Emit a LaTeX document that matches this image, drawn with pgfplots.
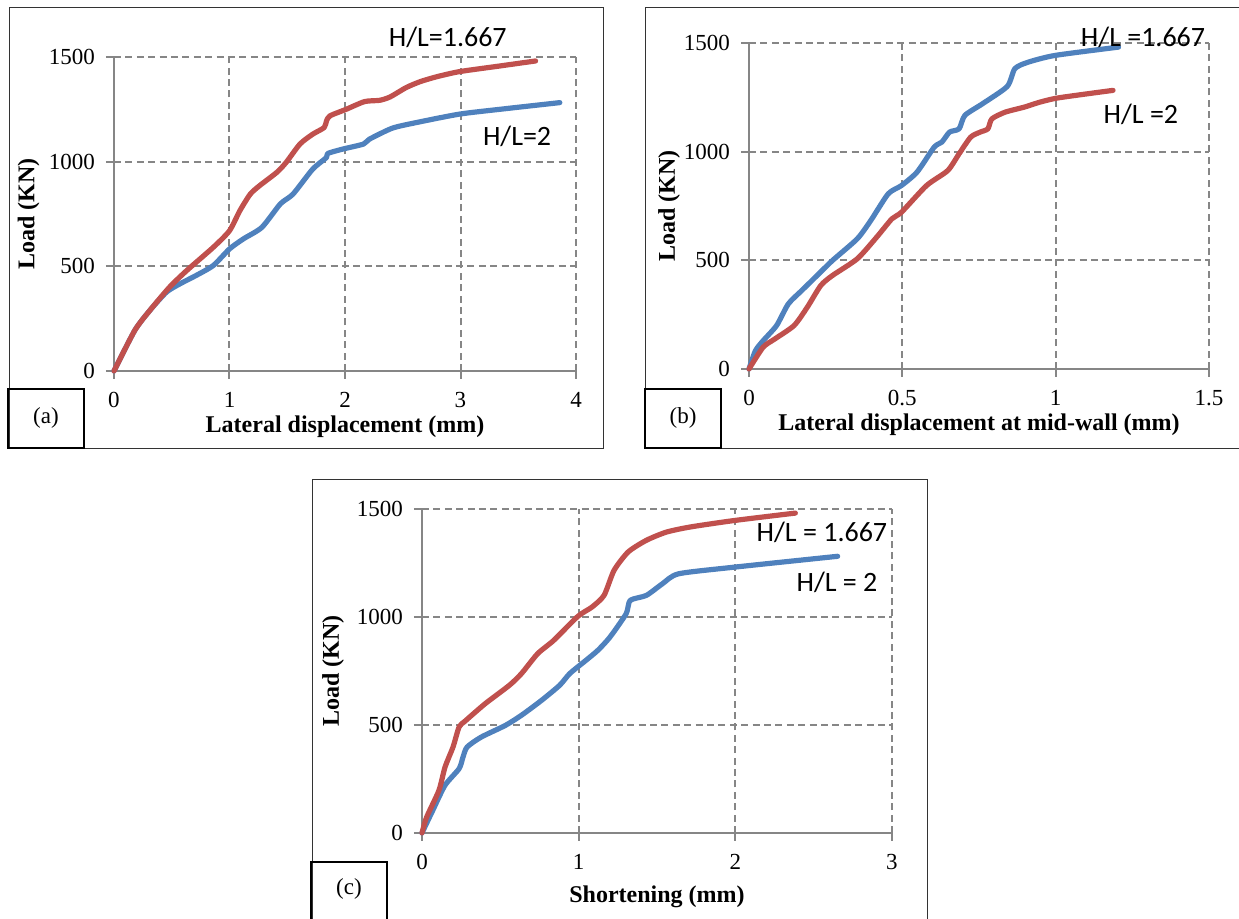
\documentclass[border=0pt]{standalone}
\usepackage{fontspec}
\setmainfont{Liberation Serif}
\newfontfamily\calibri{Carlito}
\usepackage{pgfplots}
\pgfplotsset{compat=1.18}
\definecolor{axgray}{RGB}{134,134,134}
\definecolor{xred}{RGB}{192,80,77}
\definecolor{xblue}{RGB}{79,129,189}
\tikzset{hl/.style={font=\calibri\fontsize{14}{16}\selectfont, inner sep=0pt}}
\pgfplotsset{
  panel/.style={
    scale only axis,
    clip=false,
    axis x line*=bottom, axis y line*=left,
    axis line style={draw=axgray, line width=1pt, -},
    grid=major,
    major grid style={draw=axgray, line width=1pt, dash pattern=on 3.5pt off 2.2pt},
    tick align=outside, major tick length=4pt,
    tick style={draw=axgray, line width=1pt},
    ymin=0, ymax=1500, ytick={0,500,1000,1500},
    tick label style={font=\fontsize{11.5}{13}\selectfont},
    xticklabel shift=3pt, yticklabel shift=2pt,
    /pgf/number format/assume math mode=true,
    /pgf/number format/1000 sep={},
    every axis x label/.style={at={(axis description cs:0.5,0)}, anchor=center, font=\bfseries\fontsize{12}{14}\selectfont},
    every axis y label/.style={at={(axis description cs:0,0.5)}, rotate=90, anchor=center, font=\bfseries\fontsize{12}{14}\selectfont},
    every axis plot/.append style={line width=2.6pt, line cap=round, line join=round, smooth, tension=0.4, mark=none},
  },
}
\begin{document}
\begin{tikzpicture}
\useasboundingbox (0,0) rectangle (619.5pt,459.5pt);
% frames
\draw[black!80, line width=0.5pt] (4.5pt,235pt) rectangle (301.5pt,455.5pt);
\draw[black, line width=0.75pt] (4pt,235.5pt) rectangle (42pt,265pt);
\node[font=\fontsize{11.5}{13}\selectfont] at (23pt,250.5pt) {(a)};
\draw[black!80, line width=0.5pt] (619.5pt,455.5pt) -- (322.5pt,455.5pt) -- (322.5pt,235pt) -- (619.5pt,235pt);
\draw[black, line width=0.75pt] (322.5pt,235.5pt) rectangle (360.5pt,265pt);
\node[font=\fontsize{11.5}{13}\selectfont] at (341.5pt,250.5pt) {(b)};
\draw[black!80, line width=0.5pt] (156pt,-1pt) -- (156pt,219.5pt) -- (463.5pt,219.5pt) -- (463.5pt,-1pt);
\draw[black, line width=0.75pt] (155.5pt,-1pt) -- (155.5pt,28.5pt) -- (193.5pt,28.5pt) -- (193.5pt,-1pt);
\node[font=\fontsize{11.5}{13}\selectfont] at (174.5pt,15pt) {(c)};

% (a)
\begin{axis}[panel, at={(57pt,274pt)}, anchor=south west, width=231pt, height=157pt,
  xmin=0, xmax=4, xtick={0,1,2,3,4},
  xlabel={Lateral displacement (mm)}, ylabel={Load (KN)},
  x label style={yshift=-28pt}, y label style={yshift=42.75pt}]
\addplot[xblue] coordinates {(0,0) (0.18,194) (0.31,289) (0.455,377) (0.57,416) (0.71,456) (0.86,504) (1.0,583) (1.12,631) (1.28,686) (1.44,798) (1.55,845) (1.72,964) (1.84,1020) (1.85,1039) (1.98,1060) (2.16,1084) (2.21,1107) (2.41,1160) (2.62,1187) (2.99,1227) (3.34,1250) (3.86,1282)};
\addplot[xred] coordinates {(0,0) (0.18,194) (0.31,289) (0.48,400) (0.63,480) (0.86,591) (1.0,670) (1.09,766) (1.18,845) (1.26,885) (1.41,949) (1.49,996) (1.61,1084) (1.72,1131) (1.82,1163) (1.84,1195) (1.87,1219) (2.01,1250) (2.17,1287) (2.30,1293) (2.39,1309) (2.53,1354) (2.65,1382) (2.79,1405) (2.99,1430) (3.34,1457) (3.65,1481)};
\node[hl] at (axis cs:2.89,1593) {H/L=1.667};
\node[hl] at (axis cs:3.49,1123) {H/L=2};
\end{axis}

% (b)
\begin{axis}[panel, at={(374.5pt,275pt)}, anchor=south west, width=230pt, height=163pt,
  xmin=0, xmax=1.5, xtick={0,0.5,1,1.5},
  xlabel={Lateral displacement at mid-wall (mm)}, ylabel={Load (KN)},
  x label style={yshift=-28pt}, y label style={yshift=40pt}]
\addplot[xblue] coordinates {(0,0) (0.021,84) (0.046,130) (0.09,200) (0.128,299) (0.172,361) (0.222,430) (0.272,499) (0.353,599) (0.397,683) (0.454,806) (0.497,844) (0.548,906) (0.604,1021) (0.629,1044) (0.654,1090) (0.685,1105) (0.704,1167) (0.761,1220) (0.842,1300) (0.867,1382) (0.911,1412) (0.999,1443) (1.205,1481)};
\addplot[xred] coordinates {(0,0) (0.046,100) (0.084,138) (0.147,200) (0.19,284) (0.234,384) (0.272,430) (0.353,507) (0.416,606) (0.466,691) (0.497,721) (0.579,844) (0.648,913) (0.685,990) (0.723,1067) (0.754,1090) (0.779,1105) (0.792,1151) (0.836,1182) (0.898,1205) (0.949,1228) (1.011,1248) (1.187,1282)};
\node[hl] at (axis cs:1.285,1525) {H/L =1.667};
\node[hl] at (axis cs:1.278,1173) {H/L =2};
\end{axis}

% (c)
\begin{axis}[panel, at={(211pt,43pt)}, anchor=south west, width=235pt, height=162pt,
  xmin=0, xmax=3, xtick={0,1,2,3},
  xlabel={Shortening (mm)}, ylabel={Load (KN)},
  x label style={yshift=-32pt}, y label style={yshift=44.5pt}]
\addplot[xblue] coordinates {(0,0) (0.069,105) (0.147,221) (0.237,298) (0.262,352) (0.288,398) (0.378,444) (0.532,498) (0.635,545) (0.763,614) (0.879,684) (0.943,738) (1.046,799) (1.123,846) (1.2,907) (1.303,1015) (1.329,1077) (1.432,1100) (1.535,1154) (1.638,1200) (1.997,1231) (2.653,1281)};
\addplot[xred] coordinates {(0,0) (0.03,74) (0.108,197) (0.147,305) (0.198,398) (0.237,491) (0.275,518) (0.404,599) (0.558,684) (0.635,738) (0.738,830) (0.841,892) (0.995,1003) (1.085,1046) (1.162,1100) (1.226,1216) (1.316,1301) (1.432,1355) (1.56,1393) (1.715,1417) (1.997,1447) (2.383,1481)};
\node[hl] at (axis cs:2.553,1393) {H/L = 1.667};
\node[hl] at (axis cs:2.649,1162) {H/L = 2};
\end{axis}
\end{tikzpicture}
\end{document}
